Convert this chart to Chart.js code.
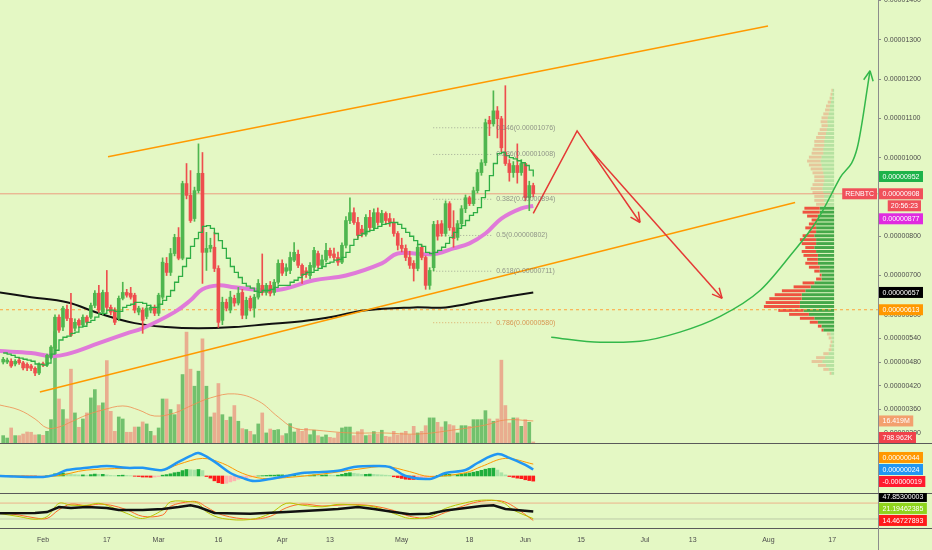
<!DOCTYPE html>
<html>
<head>
<meta charset="utf-8">
<script src="https://cdn.jsdelivr.net/npm/chart.js@4.4.0/dist/chart.umd.min.js"></script>
<style>
  html, body { margin: 0; padding: 0; background: #e4f8c4; }
  #wrap { position: relative; width: 932px; height: 550px; overflow: hidden; background: #e4f8c4; }
  canvas { position: absolute; left: 0; }
</style>
</head>
<body>
<div id="wrap">
  <canvas id="priceChart" width="932" height="443" style="top:0px"></canvas>
  <canvas id="macdChart" width="932" height="50" style="top:443px"></canvas>
  <canvas id="stochChart" width="932" height="57" style="top:493px"></canvas>
</div>
<script>
// RENBTC daily candles, 22 Jan - 3 Jun 2020
// prices in satoshi (1e-8 BTC), volume in millions, x = day number from 1 Jan 2020
const firstDay = 21;
const viewStart = 20.2, viewEnd = 240.5;

const open = [
  480,480,482,475,485,478,474,470,464,452,
  476,472,492,515,594,569,614,591,566,586,
  574,594,594,624,655,607,657,619,612,591,
  642,657,655,650,607,612,596,612,619,604,
  645,731,708,756,797,744,934,904,845,916,
  960,759,769,772,718,586,632,612,642,630,
  657,599,642,617,645,675,657,675,657,683,
  731,711,713,739,754,726,712,700,721,756,
  726,740,764,755,746,734,777,840,860,835,
  818,805,848,822,860,835,858,845,835,807,
  777,769,746,731,718,772,746,675,720,830,
  832,807,883,822,797,832,870,898,883,916,
  962,987,1095,1086,1119,1099,1013,985,962,980,
  962,985,898,929];
const high = [
  492,490,488,486,492,482,478,474,468,478,
  480,500,522,600,600,622,625,655,590,590,
  600,598,630,662,675,663,713,625,618,648,
  683,665,670,655,622,618,622,625,625,655,
  745,746,769,805,822,940,985,967,925,1035,
  1013,810,795,810,725,645,640,660,650,670,
  665,645,648,652,690,755,680,685,690,740,
  740,730,760,784,765,730,720,733,772,762,
  752,782,770,770,760,783,850,898,872,848,
  828,855,866,870,872,866,862,858,845,812,
  795,778,762,738,780,778,750,720,838,840,
  840,890,888,865,840,878,905,902,925,970,
  995,1098,1105,1170,1130,1105,1183,995,990,1035,
  995,985,940,935];
const low = [
  475,476,466,470,474,460,458,458,445,448,
  468,468,488,510,555,560,585,545,560,568,
  570,576,590,618,605,600,612,600,575,585,
  638,645,640,605,600,553,590,605,598,598,
  640,700,700,750,740,740,895,835,838,910,
  680,713,760,710,568,575,610,605,622,625,
  590,590,610,594,640,650,650,648,650,678,
  700,700,705,735,720,680,695,692,715,720,
  718,735,745,740,726,730,770,832,830,795,
  798,800,815,815,828,828,830,825,800,765,
  760,738,718,686,712,740,665,665,712,790,
  800,800,815,772,790,825,860,878,878,910,
  955,980,1056,1080,1050,1015,980,940,950,935,
  955,890,865,900];
const close = [
  487,485,470,482,478,465,465,464,452,475,
  472,497,518,594,561,617,591,548,581,574,
  594,581,624,655,612,657,619,607,581,642,
  657,650,645,612,617,586,617,619,604,650,
  734,708,756,797,744,934,904,840,916,960,
  759,769,777,718,581,632,617,645,630,655,
  599,637,617,645,680,657,675,655,683,731,
  706,720,746,759,726,700,703,726,764,726,
  740,764,751,746,734,777,840,860,835,802,
  805,848,822,860,835,858,840,835,807,777,
  769,746,726,718,772,746,675,713,830,800,
  807,883,822,794,832,870,898,883,916,962,
  987,1089,1086,1119,1099,1025,985,962,980,962,
  985,898,929,908];
const volume = [
  5.5,3.7,11.2,5.5,5.5,6.7,8.2,8,6,6.2,
  5.7,8.7,17.4,83,32.8,24.9,17.9,55,22.4,11.7,
  17.9,22.4,33.6,39.8,27.9,29.9,61.4,23.6,8.7,19.4,
  17.9,8,8,11.9,11.9,15.7,14.2,8.7,5.5,11.2,
  32.8,32.8,24.9,21.1,28.6,51,82.6,55,42.3,53.5,
  77.6,42.3,19.4,22.4,44.3,21.1,16.9,19.4,27.9,16.2,
  10.7,10,8.7,6.2,14.2,22.4,7.5,10.4,9.5,10,
  5.5,7,14.4,8.2,10.4,8.7,10.9,6.2,9.5,5.5,
  4.5,6,4.2,3.7,7.5,11.2,11.9,11.9,5.5,8.5,
  10,5.5,6,8.5,6.5,9.5,5,4.5,8.7,6,
  7.5,8.7,6.2,12.4,7.5,8.7,12.9,18.7,18.7,15.4,
  11.9,15.9,13.7,12.9,7.5,12.9,12.9,12.4,17.4,17.4,
  17.4,24.1,17.9,16.2,17.9,61.7,27.9,14.9,18.7,18.7,
  12.4,17.4,15.4,0.798962];
// green stepped trailing line
const stepLine = [
  503,500,497,492,490,487,485,482,475,474,
  472,477,500,510,536,543,546,553,556,569,
  571,581,586,594,604,604,612,612,609,609,
  619,624,627,632,632,629,624,619,619,627,
  637,647,662,683,698,723,744,774,794,810,
  825,827,820,807,789,769,744,723,708,695,
  680,673,668,660,657,662,662,665,670,675,
  675,675,683,688,695,703,708,708,713,718,
  723,731,734,739,741,746,759,777,792,802,
  807,812,815,820,825,830,832,835,835,830,
  820,810,800,789,779,774,759,756,759,764,
  772,782,797,810,820,827,840,853,860,873,
  898,916,954,985,1010,1013,1005,1000,997,992,
  987,980,968,952];
const macdHist = [
  -2,-2,-3,-2,-1,-2,-2,-3,-3,-2,
  -1,1,3,8,10,11,10,7,5,4,
  4,3,5,7,6,6,4,2,1,2,
  3,2,1,-1,-2,-4,-4,-5,-4,-2,
  3,5,8,12,14,20,24,23,22,24,
  20,-2,-8,-18,-25,-28,-27,-22,-18,-12,
  -9,-6,-4,-2,0,1,2,3,3,4,
  4,3,4,5,4,3,2,3,4,3,
  3,4,3,2,3,6,10,12,10,8,
  6,6,7,6,5,4,3,2,-3,-6,
  -9,-12,-13,-13,-10,-8,-6,-4,-1,2,
  4,6,6,5,5,7,9,11,14,17,
  21,25,28,29,22,12,4,-2,-5,-8,
  -10,-14,-17,-19];

// moving averages read at sample days
const pinkDays = [20,28,33,37,45,52,56,64,68,71,75,79,87,91,99,107,116,120,127,130,134,138,142,146,151,154];
const pinkMa = [508,503,495,500,528,553,566,607,637,665,675,670,662,665,688,700,731,756,754,756,769,782,807,845,871,877];
const blackDays = [20,28,37,45,54,62,70,79,87,96,104,112,124,132,142,154];
const blackMa = [657,645,632,604,579,569,566,569,576,584,596,612,619,619,637,657];
const volMaDays = [20,25,29,32,35,38,42,46,51,55,59,64,68,73,79,85,90,94,99,108,116,125,134,142,147,154];
const volMa = [28.4,24.6,17.9,11.2,11.9,15.7,20.9,24.6,27.6,24.6,20.1,22.4,27.6,33.6,36.6,31.3,19.4,11.2,9.7,7.5,7.5,6.7,9.7,13.4,17.2,16.419];

// MACD lines
const macdDays = [20,31,34,37,42,47,52,56,61,65,68,70,74,78,81,84,88,92,96,101,105,109,114,118,122,128,132,137,140,145,148,152,154];
const macdLine = [0,-4,4,22,30,37,30,30,22,52,74,85,53,11,-7,-19,-11,0,11,15,19,33,37,33,0,-11,11,22,48,81,67,41,24];
const signalDays = [20,34,42,56,61,65,71,76,81,86,92,101,110,117,123,128,137,141,147,154];
const signalLine = [2,0,22,28,22,43,65,47,10,-9,-6,7,25,35,16,-2,12,35,65,44];

// lower oscillator pane
const oscDays = [20,29,32,35,38,42,47,50,56,61,65,68,70,74,83,92,101,105,110,114,119,123,128,132,137,141,144,147,154];
const oscBlack = [42,43,46,65,61,65,61,54,54,58,65,72,65,43,40,46,54,58,65,58,46,38,40,52,61,69,72,58,47.85300003];
const stochDays = [20,25,29,32,35,38,42,45,48,52,56,61,63,68,70,72,76,83,88,92,96,101,105,110,114,119,123,128,132,137,141,146,149,154];
const stochK = [41,29,19,29,79,72,72,79,66,41,22,54,85,85,79,47,22,18,41,79,72,66,75,72,66,41,22,29,60,81,91,85,54,21.19462385];
const stochD = [45,35,24,22,55,76,70,76,72,55,30,35,68,86,83,65,35,19,30,62,76,69,72,74,69,52,30,24,45,72,87,88,68,14.46727893];
const oscBands = [80, 20];

// drawings
const upperChannelDays = [47.3, 212.9], upperChannelPrices = [1002, 1335];
const lowerChannelDays = [30.2, 219.7], lowerChannelPrices = [404, 886];
const redPathDays = [154, 165, 180.8], redPathPrices = [858, 1068, 835];
const redArrowDays = [168.3, 201.4], redArrowPrices = [1020, 642];
const curveDays = [158.5,170.8,180.8,190.8,200.9,210.9,218.5,225.2,231,235.3,238.5];
const curvePrices = [543,530,533,556,596,662,751,840,949,1025,1221];
const fibLevels = [0.146, 0.236, 0.382, 0.5, 0.618, 0.786];
const fibPrices = [1076, 1008, 894, 802, 711, 580];
const fibStart = 128.9, fibEnd = 143.9, fibLabelDay = 144.7;
const pocPrice = 613;

// visible range volume profile, bins of 10 sat from 1170 down
const profileTop = 1170, profileStep = 10;
const valueAreaHigh = 875, valueAreaLow = 555;
const profileUp = [1.5,2,2.5,3.5,4.5,5,6,7,7.5,7,8,9,10,11,11,12,12,14,15,14,13,12,11,11,12,13,12,11,11,10,
  16,16,18,18,20,20,20,22,20,20,22,20,18,18,18,16,16,14,14,22,26,32,36,36,38,38,34,28,22,18,14,12,
  4,3,2,3,3,6,10,13,9,6,3];
const profileDown = [1.5,2,2.5,3.5,4.5,5,6,7,7.5,7,8,9,10,11,11,12,13,14,15,14,13,12,11,11,12,13,12,11,11,10,
  17,19,12,7,8,12,8,13,18,16,10,16,16,12,14,12,6,2,6,13,19,26,30,36,38,40,28,22,16,9,4,2,
  4,3,2,2,3,6,10,12,9,6,2];

const priceTicks = [300,360,420,480,540,600,700,800,900,1000,1100,1200,1300,1400];
const tickDays = [31,47,60,75,91,103,121,138,152,166,182,194,213,229];
const tickLabels = ['Feb','17','Mar','16','Apr','13','May','18','Jun','15','Jul','13','Aug','17'];

const BG = '#e4f8c4';
const AXIS = '#8c8c8c';
const FONT = '"Liberation Sans", Arial, sans-serif';
Chart.defaults.font.family = FONT;
Chart.defaults.animation = false;

const sat = v => (v / 1e8).toFixed(8);
const volText = v => v >= 1 ? v.toFixed(3) + 'M' : (v * 1000).toFixed(3) + 'K';
const zip = (xs, ys) => xs.map((x, i) => ({ x: x, y: ys[i] }));
const last = a => a[a.length - 1];
const days = open.map((o, i) => firstDay + i);
const isUp = open.map((o, i) => close[i] >= o);
const candleColor = isUp.map(u => u ? '#4fb64f' : '#ee4e4e');
const volColor = isUp.map(u => u ? 'rgba(76,175,80,0.75)' : 'rgba(239,83,80,0.45)');
const histColor = macdHist.map((h, i) => {
  const prev = i > 0 ? macdHist[i - 1] : h;
  if (h >= 0) return h >= prev ? '#1fae3c' : '#a9e3a6';
  return h <= prev ? '#ff1a1a' : '#ffb3b0';
});

function line(data, color, width, order, extra) {
  return Object.assign({ type: 'line', data: data, borderColor: color, borderWidth: width,
    pointRadius: 0, fill: false, tension: 0, order: order, xAxisID: 'x', yAxisID: 'y' }, extra || {});
}

function hiddenX() {
  return { type: 'linear', display: false, min: viewStart, max: viewEnd, offset: false };
}

function plainRight(min, max) {
  return {
    type: 'linear', position: 'right', min: min, max: max,
    ticks: { display: false }, grid: { display: false }, border: { color: AXIS },
    afterFit: s => { s.width = 54; s.paddingTop = 0; s.paddingBottom = 0; }
  };
}

function fillBg(chart) {
  const ctx = chart.ctx;
  ctx.save();
  ctx.fillStyle = BG;
  ctx.fillRect(0, 0, chart.width, chart.height);
  ctx.restore();
}

function hLine(ctx, y, x1, x2, color) {
  ctx.save();
  ctx.strokeStyle = color;
  ctx.lineWidth = 1;
  ctx.beginPath();
  ctx.moveTo(x1, y);
  ctx.lineTo(x2, y);
  ctx.stroke();
  ctx.restore();
}

// value boxes on the right axis, pushed apart when they overlap
function drawTags(chart, tags) {
  const ctx = chart.ctx;
  const x0 = chart.chartArea.right + 1;
  const bottom = chart.chartArea.bottom;
  ctx.save();
  ctx.font = '7px ' + FONT;
  const items = tags.map(t => {
    const y = chart.scales[t.axis || 'y'].getPixelForValue(t.value);
    return Object.assign({}, t, { top: y - 5.5, h: t.sub ? 24 : 11 });
  }).sort((a, b) => a.top - b.top);
  for (let k = 0; k < 80; k++) {
    for (let i = 1; i < items.length; i++) {
      const a = items[i - 1], b = items[i];
      const over = a.top + a.h + 1 - b.top;
      if (over > 0) {
        if (a.fixed) b.top += over;
        else if (b.fixed) a.top -= over;
        else { a.top -= over / 2; b.top += over / 2; }
      }
    }
    items.forEach(t => { if (!t.fixed && t.top + t.h > bottom) t.top = bottom - t.h; });
  }
  ctx.textBaseline = 'middle';
  items.forEach(t => {
    const w = ctx.measureText(t.text).width + 7;
    ctx.fillStyle = t.bg;
    ctx.fillRect(x0, t.top, w, 11);
    ctx.fillStyle = '#ffffff';
    ctx.fillText(t.text, x0 + 3.5, t.top + 6);
    if (t.sub) {
      const sw = ctx.measureText(t.sub).width + 6;
      ctx.fillStyle = t.bg;
      ctx.fillRect(x0 + w - sw - 2, t.top + 12, sw, 11);
      ctx.fillStyle = '#ffffff';
      ctx.fillText(t.sub, x0 + w - sw + 1, t.top + 18);
    }
    if (t.side) {
      const lw = ctx.measureText(t.side).width + 6;
      ctx.fillStyle = t.bg;
      ctx.fillRect(x0 - 2 - lw, t.top, lw, 11);
      ctx.fillStyle = '#ffffff';
      ctx.fillText(t.side, x0 - lw + 1, t.top + 6);
    }
  });
  ctx.restore();
}

function arrowHead(chart, xs, ys, color) {
  const ctx = chart.ctx, sx = chart.scales.x, sy = chart.scales.y;
  const n = xs.length;
  const x1 = sx.getPixelForValue(xs[n - 2]), y1 = sy.getPixelForValue(ys[n - 2]);
  const x2 = sx.getPixelForValue(xs[n - 1]), y2 = sy.getPixelForValue(ys[n - 1]);
  const a = Math.atan2(y2 - y1, x2 - x1);
  ctx.save();
  ctx.strokeStyle = color;
  ctx.lineWidth = 1.5;
  ctx.beginPath();
  [-1, 1].forEach(s => {
    ctx.moveTo(x2, y2);
    ctx.lineTo(x2 - 11 * Math.cos(a + s * 0.45), y2 - 11 * Math.sin(a + s * 0.45));
  });
  ctx.stroke();
  ctx.restore();
}

function drawProfile(chart) {
  const ctx = chart.ctx, sy = chart.scales.y, sp = chart.scales.xProf;
  ctx.save();
  profileUp.forEach((up, i) => {
    const p = profileTop - i * profileStep;
    const y1 = sy.getPixelForValue(p + profileStep / 2);
    const y2 = sy.getPixelForValue(p - profileStep / 2);
    const strong = p <= valueAreaHigh && p >= valueAreaLow;
    const xr = sp.getPixelForValue(0);
    const xg = sp.getPixelForValue(up);
    const xd = sp.getPixelForValue(up + profileDown[i]);
    ctx.fillStyle = strong ? '#45a849' : 'rgba(76,175,80,0.3)';
    ctx.fillRect(xg, y1, xr - xg, y2 - y1 - 1);
    ctx.fillStyle = strong ? '#ee5340' : 'rgba(236,110,80,0.35)';
    ctx.fillRect(xd, y1, xg - xd, y2 - y1 - 1);
  });
  ctx.restore();
}

// ---------- price pane ----------
const fibSets = fibPrices.map((p, i) => line([{ x: fibStart, y: p }, { x: fibEnd, y: p }],
  i === 5 ? 'rgba(220,150,80,0.8)' : 'rgba(120,120,120,0.6)', 1, 16, { borderDash: [1, 2] }));

new Chart(document.getElementById('priceChart'), {
  type: 'bar',
  data: {
    datasets: [
      { type: 'bar', data: zip(days, volume), xAxisID: 'x', yAxisID: 'yVol', backgroundColor: volColor,
        barThickness: 3, grouped: false, order: 20 },
      line(zip(volMaDays, volMa), 'rgba(240,140,80,0.8)', 1, 19, { yAxisID: 'yVol', tension: 0.4 }),
      line([{ x: viewStart, y: last(close) }, { x: viewEnd, y: last(close) }], 'rgba(240,120,100,0.7)', 1, 18),
      line([{ x: viewStart, y: pocPrice }, { x: viewEnd, y: pocPrice }], '#ffa23a', 1, 17, { borderDash: [3, 3] }),
      ...fibSets,
      line(zip(blackDays, blackMa), '#111111', 2, 12, { tension: 0.4 }),
      line(zip(pinkDays, pinkMa), '#e07ad9', 4, 11, { tension: 0.4 }),
      { type: 'bar', data: days.map((d, i) => ({ x: d, y: [low[i], high[i]] })), xAxisID: 'x', yAxisID: 'y',
        backgroundColor: candleColor, barThickness: 1, grouped: false, order: 6 },
      { type: 'bar', data: days.map((d, i) => ({ x: d, y: [open[i], close[i]] })), xAxisID: 'x', yAxisID: 'y',
        backgroundColor: candleColor, barThickness: 3, minBarLength: 1, grouped: false, order: 5 },
      line(zip(days, stepLine), '#2fae45', 1.3, 4, { stepped: true }),
      line(zip(upperChannelDays, upperChannelPrices), '#ff9a00', 1.5, 2),
      line(zip(lowerChannelDays, lowerChannelPrices), '#ff9a00', 1.5, 2),
      line(zip(redPathDays, redPathPrices), '#e53935', 1.5, 1),
      line(zip(redArrowDays, redArrowPrices), '#e53935', 1.5, 1),
      line(zip(curveDays, curvePrices), '#33b84a', 1.5, 1, { cubicInterpolationMode: 'monotone' })
    ]
  },
  options: {
    responsive: false, devicePixelRatio: 1,
    layout: { padding: 0 },
    plugins: { legend: { display: false }, tooltip: { enabled: false } },
    scales: {
      x: hiddenX(),
      y: {
        type: 'linear', position: 'right', min: 274, max: 1401,
        afterBuildTicks: s => { s.ticks = priceTicks.map(v => ({ value: v })); },
        afterFit: s => { s.width = 54; s.paddingTop = 0; s.paddingBottom = 0; },
        ticks: { font: { size: 7 }, color: '#4d4d4d', padding: 3, autoSkip: false, callback: v => sat(v) },
        grid: { drawOnChartArea: false, tickLength: 3, color: AXIS },
        border: { color: AXIS }
      },
      yVol: { type: 'linear', display: false, min: 0, max: 330 },
      xProf: { type: 'linear', display: false, min: 0, max: 878, reverse: true }
    }
  },
  plugins: [{
    id: 'priceOverlay',
    beforeDraw: fillBg,
    beforeDatasetsDraw: drawProfile,
    afterDatasetsDraw(chart) {
      const ctx = chart.ctx;
      ctx.save();
      ctx.font = '7px ' + FONT;
      ctx.textBaseline = 'middle';
      fibLevels.forEach((lvl, i) => {
        ctx.fillStyle = i === 5 ? 'rgba(215,140,70,0.9)' : 'rgba(115,115,115,0.75)';
        ctx.fillText(lvl + '(' + sat(fibPrices[i]) + ')',
          chart.scales.x.getPixelForValue(fibLabelDay), chart.scales.y.getPixelForValue(fibPrices[i]));
      });
      ctx.restore();
      arrowHead(chart, redPathDays, redPathPrices, '#e53935');
      arrowHead(chart, redArrowDays, redArrowPrices, '#e53935');
      arrowHead(chart, curveDays, curvePrices, '#33b84a');
    },
    afterDraw(chart) {
      drawTags(chart, [
        { value: last(stepLine), text: sat(last(stepLine)), bg: '#1db34a' },
        { value: last(close), text: sat(last(close)), bg: '#f0505a', fixed: true, sub: '20:56:23', side: 'RENBTC' },
        { value: last(pinkMa), text: sat(last(pinkMa)), bg: '#e02be0' },
        { value: last(blackMa), text: sat(last(blackMa)), bg: '#000000' },
        { value: pocPrice, text: sat(pocPrice), bg: '#ff9800' },
        { axis: 'yVol', value: last(volMa), text: volText(last(volMa)), bg: '#f3a06e' },
        { axis: 'yVol', value: last(volume), text: volText(last(volume)), bg: '#f0414b' }
      ]);
    }
  }]
});

// ---------- MACD pane ----------
new Chart(document.getElementById('macdChart'), {
  type: 'bar',
  data: {
    datasets: [
      { type: 'bar', data: zip(days, macdHist), xAxisID: 'x', yAxisID: 'y', backgroundColor: histColor,
        barThickness: 3, grouped: false, order: 3 },
      line(zip(signalDays, signalLine), '#ff9800', 1, 2, { tension: 0.35 }),
      line(zip(macdDays, macdLine), '#2196f3', 2.5, 1, { tension: 0.35 })
    ]
  },
  options: {
    responsive: false, devicePixelRatio: 1,
    layout: { padding: 0 },
    plugins: { legend: { display: false }, tooltip: { enabled: false } },
    scales: { x: hiddenX(), y: plainRight(-63, 122) }
  },
  plugins: [{
    id: 'macdOverlay',
    beforeDraw: fillBg,
    afterDraw(chart) {
      hLine(chart.ctx, 0.5, 0, chart.width, '#5a5a5a');
      drawTags(chart, [
        { value: last(signalLine), text: sat(last(signalLine)), bg: '#ff9800' },
        { value: last(macdLine), text: sat(last(macdLine)), bg: '#2196f3', fixed: true },
        { value: last(macdHist), text: sat(last(macdHist)), bg: '#ff1a2e' }
      ]);
    }
  }]
});

// ---------- oscillator pane + date axis ----------
new Chart(document.getElementById('stochChart'), {
  type: 'line',
  data: {
    datasets: [
      line([{ x: viewStart, y: oscBands[0] }, { x: viewEnd, y: oscBands[0] }], 'rgba(240,130,100,0.6)', 1, 6),
      line([{ x: viewStart, y: oscBands[1] }, { x: viewEnd, y: oscBands[1] }], 'rgba(140,150,130,0.45)', 1, 5),
      line(zip(stochDays, stochD), '#ff6a2a', 1, 3, { tension: 0.35 }),
      line(zip(stochDays, stochK), '#b9c400', 1, 2, { tension: 0.35 }),
      line(zip(oscDays, oscBlack), '#111111', 2.5, 1)
    ]
  },
  options: {
    responsive: false, devicePixelRatio: 1,
    layout: { padding: 0 },
    plugins: { legend: { display: false }, tooltip: { enabled: false } },
    scales: {
      x: {
        type: 'linear', min: viewStart, max: viewEnd, offset: false,
        afterBuildTicks: s => { s.ticks = tickDays.map(v => ({ value: v })); },
        afterFit: s => { s.height = 22; s.paddingLeft = 0; s.paddingRight = 0; },
        ticks: { font: { size: 7 }, color: '#4d4d4d', padding: 8, autoSkip: false, maxRotation: 0,
          callback: (v, i) => tickLabels[i] },
        grid: { display: false, drawTicks: false },
        border: { display: false }
      },
      y: plainRight(-14, 118)
    }
  },
  plugins: [{
    id: 'stochOverlay',
    beforeDraw: fillBg,
    afterDraw(chart) {
      const ctx = chart.ctx, area = chart.chartArea;
      hLine(ctx, 0.5, 0, chart.width, '#5a5a5a');
      hLine(ctx, Math.round(area.bottom) + 0.5, 0, chart.width, '#5a5a5a');
      ctx.save();
      ctx.strokeStyle = AXIS;
      ctx.beginPath();
      ctx.moveTo(Math.round(area.right) + 0.5, area.bottom);
      ctx.lineTo(Math.round(area.right) + 0.5, chart.height);
      ctx.stroke();
      ctx.restore();
      drawTags(chart, [
        { value: last(oscBlack), text: last(oscBlack).toFixed(8), bg: '#000000' },
        { value: last(stochK), text: last(stochK).toFixed(8), bg: '#8fd41c' },
        { value: last(stochD), text: last(stochD).toFixed(8), bg: '#ff1a1a', fixed: true }
      ]);
    }
  }]
});
</script>
</body>
</html>
